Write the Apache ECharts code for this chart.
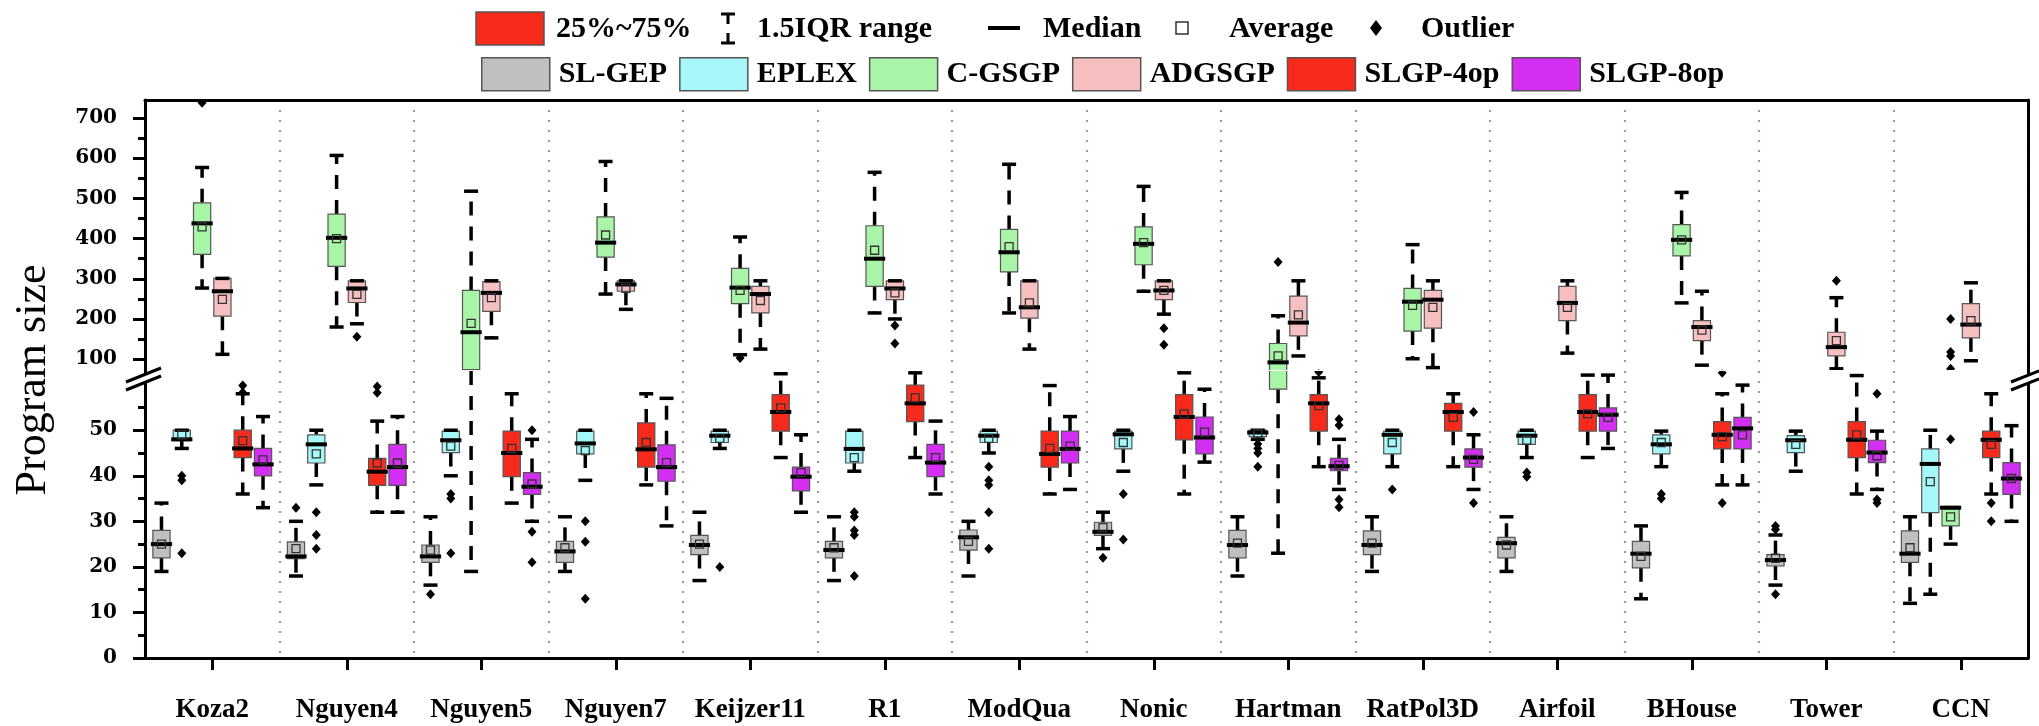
<!DOCTYPE html>
<html>
<head>
<meta charset="utf-8">
<script src="https://cdn.jsdelivr.net/npm/echarts@6/dist/echarts.min.js"></script>
<style>
html, body { margin: 0; padding: 0; background: #fff; }
#chart { width: 2039px; height: 726px; }
</style>
</head>
<body>
<div id="chart"></div>
<script>
const categories = ['Koza2', 'Nguyen4', 'Nguyen5', 'Nguyen7', 'Keijzer11', 'R1', 'ModQua',
  'Nonic', 'Hartman', 'RatPol3D', 'Airfoil', 'BHouse', 'Tower', 'CCN'];
const methods = ['SL-GEP', 'EPLEX', 'C-GSGP', 'ADGSGP', 'SLGP-4op', 'SLGP-8op'];
const colors = ['#c0c0c0', '#a6f7f7', '#a8f5a8', '#f7c0c0', '#f72a1c', '#d32ff2'];

const upperTicks = [100, 200, 300, 400, 500, 600, 700];
const upperMinor = [150, 250, 350, 450, 550, 650];
const lowerTicks = [0, 10, 20, 30, 40, 50];
const lowerMinor = [5, 15, 25, 35, 45, 55];

// [min, Q1, median, Q3, max] per category
const slgep = [[19, 22, 25, 28, 34], [18, 21.8, 22.3, 25.5, 30], [16, 21, 22.3, 24.8, 31], [19, 21, 23.4, 25.6, 31],
  [17, 22.7, 24.8, 26.9, 32], [17, 22, 23.7, 25.6, 31], [18, 23.7, 26.5, 28.1, 30], [24, 26.9, 27.7, 29.8, 32],
  [18, 22, 24.8, 28, 31], [19, 22.7, 24.8, 27.9, 31], [19, 22, 25.2, 26.5, 31], [13, 19.8, 22.9, 25.6, 29],
  [16, 20.2, 21.5, 22.7, 27], [12, 21, 22.9, 27.9, 31]];
const slgepMean = [25, 24, 23.7, 24.2, 25, 24.2, 25.6, 28.6, 25.2, 25.2, 24.8, 22.3, 21.9, 24.2];
const slgepOut = [[], [33], [14], [], [], [], [], [22], [], [], [], [], [29, 28.2, 14], []];

const eplex = [[46, 47.7, 48, 50, 50], [38, 42.8, 46.9, 49, 50], [40, 45.1, 47.8, 49.8, 50], [39, 44.8, 47.1, 49.8, 50],
  [46, 47.3, 48.8, 49.8, 50], [41, 42.8, 45.9, 49.8, 50], [45, 47.3, 48.8, 49.8, 50], [41, 45.9, 49.1, 49.8, 50],
  [48, 48.6, 49.5, 50, 50], [42, 44.8, 49, 49.8, 50], [44, 46.9, 48.8, 49.8, 50], [42, 44.8, 46.9, 49, 49.8],
  [41, 45.1, 47.8, 48.8, 49.8], [14, 31.9, 42.6, 45.9, 50]];
const eplexMean = [49, 44.8, 46.5, 45.5, 48.2, 44, 48.2, 47.3, 49.2, 47.3, 47.8, 47.3, 46.9, 38.7];
const eplexOut = [[40, 39, 23], [32, 27, 24], [36, 35, 23], [30, 25.5, 13], [20], [32, 31, 28, 27, 18],
  [42, 39, 38, 32, 24], [36, 26], [47, 46, 45, 42], [37], [40.7, 39.8], [36, 35], [], []];

const cgsgp = [[277, 361, 438, 489, 577], [180, 331, 402, 461, 607], [19, 74, 167, 271, 518], [262, 354, 390, 454, 592],
  [111, 238, 278, 326, 404], [215, 281, 350, 432, 565], [215, 317, 366, 423, 585], [269, 335, 387, 429, 530],
  [23, 59, 92, 139, 208], [101, 170, 243, 276, 385], null, [240, 357, 397, 435, 515],
  null, [25, 29, 33, 33, 33]];
const cgsgpMean = [429, 400, 189, 409, 271, 371, 380, 390, 108, 234, null, 397, null, 31];
const cgsgpOut = [[738], [], [], [], [103], [], [], [], [342], [], [], [], [], [200, 118, 108, 76, 48]];

const adgsgp = [[112, 207, 269, 301, 301], [188, 241, 276, 295, 295], [153, 219, 265, 293, 295], [224, 269, 286, 295, 295],
  [125, 215, 262, 281, 295], [200, 248, 276, 295, 295], [125, 202, 229, 295, 295], [212, 248, 271, 295, 295],
  [108, 158, 191, 257, 295], [79, 177, 248, 271, 295], [115, 196, 240, 281, 295], [85, 146, 180, 196, 269],
  [76, 108, 130, 167, 253], [96, 153, 186, 238, 290]];
const adgsgpMean = [249, 261, 253, 276, 246, 265, 240, 271, 210, 229, 229, 172, 146, 196];
const adgsgpOut = [[], [156], [], [], [], [184, 139], [], [177, 136], [], [], [], [], [295], []];

const slgp4 = [[36, 44, 46, 50, 58], [32, 37.9, 40.9, 43.8, 52], [34, 39.8, 45, 49.8, 58], [38, 41.9, 45.8, 51.6, 58],
  [44, 49.8, 54, 57.8, 62.4], [44, 51.9, 55.9, 59.9, 62.6], [36, 41.9, 44.8, 49.8, 59.8], [36, 47.9, 52.9, 57.8, 62.6],
  [42, 49.8, 55.9, 57.8, 61.5], [42, 49.8, 54, 55.9, 58], [44, 49.8, 54, 57.8, 62.1], [38, 45.9, 49, 51.9, 58],
  [36, 44, 47.9, 51.9, 62], [36, 44, 47.9, 49.8, 58]];
const slgp4Mean = [47.7, 42.8, 46, 47.3, 54.9, 57.1, 46, 53.6, 55.4, 52.8, 53.6, 48.6, 49, 46.9];
const slgp4Out = [[59.8, 58.3], [59.6, 58.2], [], [], [], [], [], [], [62.8], [], [], [62.6, 34], [], [34, 30]];

const slgp8 = [[33, 40, 42.5, 46, 53], [32, 37.9, 41.9, 46.9, 53], [30, 35.9, 37.6, 40.7, 48], [29, 38.8, 41.9, 46.8, 57],
  [32, 36.7, 39.8, 41.9, 49], [36, 39.8, 42.9, 46.9, 52], [37, 42.8, 45.9, 49.8, 53], [43, 44.8, 48.4, 52.9, 59],
  [37, 41.1, 42.1, 43.8, 48], [37, 41.9, 44, 45.9, 49], [46, 49.8, 53.4, 54.9, 62.1], [38, 45.9, 50.4, 52.8, 59.9],
  [37, 42.9, 45.1, 47.8, 49.8], [30, 35.9, 39.4, 42.9, 51]];
const slgp8Mean = [43.5, 42.8, 38.2, 42.9, 40.7, 44, 46.5, 49.6, 42.3, 43.6, 52.8, 49, 44.4, 39.4];
const slgp8Out = [[], [], [50, 27.7, 21], [], [], [], [], [], [52.4, 51.1, 34.8, 33.1], [54, 34], [], [], [58, 34.8, 34], []];

const boxes = [slgep, eplex, cgsgp, adgsgp, slgp4, slgp8];
const means = [slgepMean, eplexMean, cgsgpMean, adgsgpMean, slgp4Mean, slgp8Mean];
const outliers = [slgepOut, eplexOut, cgsgpOut, adgsgpOut, slgp4Out, slgp8Out];

const serif = 'Liberation Serif';
const chart = echarts.init(document.getElementById('chart'));

function renderBox(m) {
  return function (params, api) {
    const cat = api.value(0);
    const band = api.size([1, 0])[0];
    const cx = api.coord([cat, 0])[0] + (m - 2.5) * band * 0.151;
    const y = v => api.coord([cat, v])[1];
    const yMin = y(api.value(1)), yQ1 = y(api.value(2)), yMed = y(api.value(3));
    const yQ3 = y(api.value(4)), yMax = y(api.value(5)), yMean = y(api.value(6));
    const half = band * 0.064;
    const whisk = { stroke: '#000', lineWidth: 3.5, lineDash: [14, 11] };
    const solid = { stroke: '#000', lineWidth: 3.5 };
    const kids = [];
    if (yQ3 - yMax > 1) kids.push({ type: 'line', shape: { x1: cx, y1: yQ3, x2: cx, y2: yMax }, style: whisk });
    if (yMin - yQ1 > 1) kids.push({ type: 'line', shape: { x1: cx, y1: yQ1, x2: cx, y2: yMin }, style: whisk });
    kids.push({ type: 'rect', shape: { x: cx - half, y: yQ3, width: half * 2, height: yQ1 - yQ3 },
      style: { fill: api.visual('color'), stroke: '#555', lineWidth: 1.2 } });
    kids.push({ type: 'line', shape: { x1: cx - 7, y1: yMax, x2: cx + 7, y2: yMax }, style: solid });
    kids.push({ type: 'line', shape: { x1: cx - 7, y1: yMin, x2: cx + 7, y2: yMin }, style: solid });
    kids.push({ type: 'line', shape: { x1: cx - half - 2, y1: yMed, x2: cx + half + 2, y2: yMed },
      style: { stroke: '#000', lineWidth: 4 } });
    kids.push({ type: 'rect', shape: { x: cx - 4, y: yMean - 4, width: 8, height: 8 },
      style: { fill: 'none', stroke: '#333', lineWidth: 1.3 } });
    outliers[m][cat].forEach(function (v) {
      const yo = y(v);
      kids.push({ type: 'polygon', shape: { points: [[cx, yo - 5], [cx + 4.5, yo], [cx, yo + 5], [cx - 4.5, yo]] },
        style: { fill: '#000' } });
    });
    return { type: 'group', children: kids };
  };
}

function seriesData(m) {
  const out = [];
  boxes[m].forEach(function (b, i) {
    if (b) out.push([i].concat(b, [means[m][i]]));
  });
  return out;
}

const series = [];
[0, 1].forEach(function (g) {
  methods.forEach(function (name, m) {
    series.push({
      name: name,
      type: 'custom',
      xAxisIndex: g,
      yAxisIndex: g === 0 ? 0 : 3,
      clip: true,
      itemStyle: { color: colors[m] },
      encode: { x: 0, y: [1, 2, 3, 4, 5] },
      renderItem: renderBox(m),
      data: seriesData(m),
      z: 5
    });
  });
});

const dotted = { show: true, interval: 0, lineStyle: { color: '#9a9a9a', width: 2.2, type: [2, 8] } };
const yLabel = { fontFamily: 'DejaVu Serif', fontWeight: 'bold', fontSize: 20, color: '#000', margin: 28 };
const axisBlack = { show: true, lineStyle: { color: '#000', width: 3 } };

function leftAxes(grid, min, max, ticks, minor) {
  return [
    { type: 'value', gridIndex: grid, position: 'left', min: min, max: max,
      axisLine: axisBlack, splitLine: { show: false },
      axisTick: { show: true, length: 12, lineStyle: { width: 3, color: '#000' }, customValues: ticks },
      axisLabel: Object.assign({ customValues: ticks }, yLabel) },
    { type: 'value', gridIndex: grid, position: 'left', min: min, max: max,
      axisLine: { show: false }, splitLine: { show: false }, axisLabel: { show: false },
      axisTick: { show: true, length: 7, lineStyle: { width: 3, color: '#000' }, customValues: minor } },
    { type: 'value', gridIndex: grid, position: 'right', min: min, max: max,
      axisLine: axisBlack, splitLine: { show: false }, axisTick: { show: false }, axisLabel: { show: false } }
  ];
}

const legendText = { fontFamily: serif, fontWeight: 'bold', fontSize: 30, color: '#000' };
const legendFont = 'bold 30px "Liberation Serif"';

const option = {
  animation: false,
  backgroundColor: '#fff',
  grid: [
    { left: 145, right: 11, top: 100, height: 270 },
    { left: 145, right: 11, top: 371, height: 287 }
  ],
  legend: {
    left: 476, top: 52,
    itemWidth: 68, itemHeight: 33, itemGap: 12,
    textStyle: Object.assign({ padding: [0, 0, 0, 4] }, legendText),
    data: methods.map((n, m) => ({ name: n, icon: 'rect',
      itemStyle: { color: colors[m], borderColor: '#555', borderWidth: 1.5 } }))
  },
  xAxis: [
    { type: 'category', gridIndex: 0, data: categories, position: 'top',
      axisLine: axisBlack, axisTick: { show: false }, axisLabel: { show: false }, splitLine: dotted },
    { type: 'category', gridIndex: 1, data: categories, position: 'bottom',
      axisLine: axisBlack,
      axisTick: { show: true, alignWithLabel: true, length: 12, lineStyle: { width: 3, color: '#000' } },
      axisLabel: { interval: 0, margin: 39, fontFamily: serif, fontWeight: 'bold', fontSize: 27, color: '#000' },
      splitLine: dotted }
  ],
  yAxis: leftAxes(0, 73, 745, upperTicks, upperMinor).concat(leftAxes(1, 0, 63, lowerTicks, lowerMinor)),
  series: series,
  graphic: [
    { type: 'text', x: 33, y: 380, rotation: Math.PI / 2,
      style: { text: 'Program size', font: '44px "Liberation Serif"', fill: '#000', align: 'center', verticalAlign: 'middle' } },
    // broken axis marks
    { type: 'polygon', z: 100, shape: { points: [[126, 382], [161, 368], [161, 376], [126, 390]] }, style: { fill: '#fff' } },
    { type: 'line', z: 101, shape: { x1: 126, y1: 382, x2: 161, y2: 368 }, style: { stroke: '#000', lineWidth: 3 } },
    { type: 'line', z: 101, shape: { x1: 126, y1: 390, x2: 161, y2: 376 }, style: { stroke: '#000', lineWidth: 3 } },
    { type: 'polygon', z: 100, shape: { points: [[2011, 382], [2039, 371], [2039, 379], [2011, 390]] }, style: { fill: '#fff' } },
    { type: 'line', z: 101, shape: { x1: 2011, y1: 382, x2: 2039, y2: 371 }, style: { stroke: '#000', lineWidth: 3 } },
    { type: 'line', z: 101, shape: { x1: 2011, y1: 390, x2: 2039, y2: 379 }, style: { stroke: '#000', lineWidth: 3 } },
    // first legend row
    { type: 'rect', z: 100, shape: { x: 476, y: 12, width: 68, height: 33 }, style: { fill: '#f72a1c', stroke: '#555', lineWidth: 1.5 } },
    { type: 'text', z: 100, x: 556, y: 29, style: { text: '25%~75%', font: legendFont, fill: '#000', verticalAlign: 'middle' } },
    { type: 'line', z: 100, shape: { x1: 721, y1: 14, x2: 735, y2: 14 }, style: { stroke: '#000', lineWidth: 3 } },
    { type: 'line', z: 100, shape: { x1: 728, y1: 14, x2: 728, y2: 24 }, style: { stroke: '#000', lineWidth: 3 } },
    { type: 'line', z: 100, shape: { x1: 728, y1: 33, x2: 728, y2: 43 }, style: { stroke: '#000', lineWidth: 3 } },
    { type: 'line', z: 100, shape: { x1: 721, y1: 43, x2: 735, y2: 43 }, style: { stroke: '#000', lineWidth: 3 } },
    { type: 'text', z: 100, x: 757, y: 29, style: { text: '1.5IQR range', font: legendFont, fill: '#000', verticalAlign: 'middle' } },
    { type: 'line', z: 100, shape: { x1: 988, y1: 28, x2: 1020, y2: 28 }, style: { stroke: '#000', lineWidth: 4 } },
    { type: 'text', z: 100, x: 1043, y: 29, style: { text: 'Median', font: legendFont, fill: '#000', verticalAlign: 'middle' } },
    { type: 'rect', z: 100, shape: { x: 1176, y: 22, width: 12, height: 12 }, style: { fill: 'none', stroke: '#333', lineWidth: 1.5 } },
    { type: 'text', z: 100, x: 1229, y: 29, style: { text: 'Average', font: legendFont, fill: '#000', verticalAlign: 'middle' } },
    { type: 'polygon', z: 100, shape: { points: [[1376, 20], [1382, 28], [1376, 36], [1370, 28]] }, style: { fill: '#000' } },
    { type: 'text', z: 100, x: 1421, y: 29, style: { text: 'Outlier', font: legendFont, fill: '#000', verticalAlign: 'middle' } }
  ]
};

option && chart.setOption(option);
</script>
</body>
</html>
